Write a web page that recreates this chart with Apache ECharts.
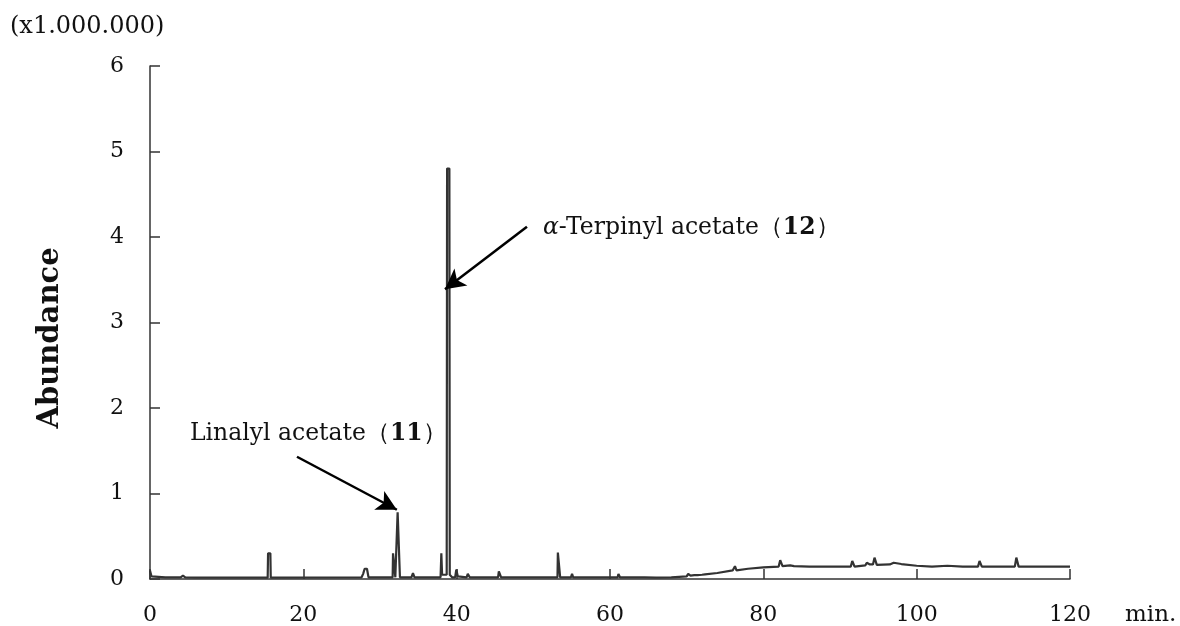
<!DOCTYPE html>
<html>
<head>
<meta charset="utf-8">
<script src="https://cdn.jsdelivr.net/npm/echarts@6/dist/echarts.min.js"></script>
<style>
html,body{margin:0;padding:0;background:#fff;}
#chart{width:1180px;height:626px;}
</style>
</head>
<body>
<div id="chart"></div>
<script>
// Retention time (min) and abundance (x1,000,000)
var times = [
  0, 0.2, 2, 4.0, 4.3, 4.6, 6,
  15.35, 15.4, 15.7, 15.75,
  27.6, 27.8, 28.0, 28.3, 28.5,
  31.65, 31.7, 31.95, 32.0, 32.25, 32.3, 32.55, 32.6,
  34.1, 34.3, 34.5, 36.8, 36.95, 37.1,
  37.9, 38.0, 38.1, 38.7, 38.75, 39.05, 39.1, 39.4,
  39.8, 39.95, 40.15, 41.3, 41.45, 41.7, 43.8, 43.95, 44.1,
  45.4, 45.5, 45.7, 45.8, 53.15, 53.2, 53.45, 53.5,
  54.9, 55.05, 55.2, 58.6, 58.7, 58.8, 61.0, 61.1, 61.3,
  62.1, 62.2, 62.3, 62.9, 63.0, 63.1, 63.7, 63.8, 63.9, 64.5, 64.6, 64.7,
  66, 68, 70, 70.2, 70.5, 71, 71.2, 71.4, 72, 72.2, 72.4, 74,
  76, 76.3, 76.5, 78, 80, 82, 82.2, 82.5, 83.5, 83.7, 84, 86, 90,
  91.4, 91.6, 91.9, 93.3, 93.5, 93.9, 94.3, 94.5, 94.8, 96.5, 97, 98,
  100, 102, 104, 106, 108, 108.2, 108.5, 112.8, 113, 113.3, 120
];
var abundance = [
  0.10, 0.03, 0.02, 0.02, 0.04, 0.02, 0.015,
  0.015, 0.30, 0.30, 0.015,
  0.02, 0.06, 0.12, 0.12, 0.02,
  0.02, 0.30, 0.30, 0.02, 0.02, 0.78, 0.78, 0.02,
  0.02, 0.07, 0.02, 0.02, 0.04, 0.02,
  0.02, 0.30, 0.05, 0.05, 4.80, 4.80, 0.05, 0.02,
  0.02, 0.11, 0.03, 0.02, 0.06, 0.02, 0.02, 0.04, 0.02,
  0.02, 0.09, 0.09, 0.02, 0.02, 0.31, 0.31, 0.02,
  0.02, 0.06, 0.02, 0.02, 0.035, 0.02, 0.02, 0.06, 0.02,
  0.02, 0.035, 0.02, 0.02, 0.035, 0.02, 0.02, 0.035, 0.02, 0.02, 0.035, 0.02,
  0.015, 0.02, 0.03, 0.06, 0.04, 0.045, 0.06, 0.045, 0.05, 0.07, 0.055, 0.07,
  0.10, 0.15, 0.10, 0.12, 0.135, 0.145, 0.22, 0.15, 0.16, 0.18, 0.15, 0.145, 0.145,
  0.145, 0.21, 0.145, 0.16, 0.19, 0.17, 0.17, 0.25, 0.165, 0.17, 0.19, 0.175,
  0.155, 0.145, 0.155, 0.145, 0.145, 0.21, 0.145, 0.145, 0.25, 0.145, 0.145
];
var xTicks = [0, 20, 40, 60, 80, 100, 120];
var yTicks = [0, 1, 2, 3, 4, 5, 6];
var linalylArrow = [[19.17, 1.43], [32.2, 0.81]];
var terpinylArrow = [[49.17, 4.12], [38.48, 3.39]];

var points = times.map(function (t, i) { return [t, abundance[i]]; });
var FONT = 'DejaVu Serif';
var chart = echarts.init(document.getElementById('chart'), null, {renderer: 'canvas'});
chart.setOption({
  animation: false,
  backgroundColor: '#fff',
  grid: {left: 150, right: 110, top: 66, bottom: 47},
  xAxis: {
    type: 'value', min: xTicks[0], max: xTicks[xTicks.length - 1], interval: 20,
    axisLine: {lineStyle: {color: '#333', width: 1.5}},
    axisTick: {inside: true, length: 10, lineStyle: {color: '#333', width: 1.5}},
    axisLabel: {margin: 25, fontFamily: FONT, fontSize: 22, color: '#111'},
    splitLine: {show: false}
  },
  yAxis: {
    type: 'value', min: yTicks[0], max: yTicks[yTicks.length - 1], interval: 1,
    axisLine: {show: true, lineStyle: {color: '#333', width: 1.5}},
    axisTick: {show: true, inside: true, length: 10, lineStyle: {color: '#333', width: 1.5}},
    axisLabel: {margin: 26, fontFamily: FONT, fontSize: 22, color: '#111'},
    splitLine: {show: false}
  },
  series: [{
    type: 'line',
    data: points,
    showSymbol: false,
    symbol: 'none',
    lineStyle: {color: '#333', width: 2.2},
    markLine: {
      silent: true,
      symbol: ['none', 'arrow'],
      symbolSize: [16, 20],
      label: {show: false},
      lineStyle: {color: '#000', width: 2.5, type: 'solid'},
      data: [
        [{coord: linalylArrow[0]}, {coord: linalylArrow[1]}],
        [{coord: terpinylArrow[0]}, {coord: terpinylArrow[1]}]
      ]
    }
  }],
  graphic: [
    {type: 'text', x: 10, y: 27, style: {text: '(x1.000.000)', font: '24px "DejaVu Serif"', fill: '#111', textVerticalAlign: 'middle'}},
    {type: 'text', x: 50, y: 338, rotation: Math.PI / 2,
      style: {text: 'Abundance', font: 'bold 29px "DejaVu Serif"', fill: '#111', textAlign: 'center', textVerticalAlign: 'middle'}},
    {type: 'text', x: 1125, y: 615, style: {text: 'min.', font: '23px "DejaVu Serif"', fill: '#111', textVerticalAlign: 'middle'}},
    {type: 'text', x: 190, y: 434, style: {
      rich: {
        n: {fontFamily: FONT, fontSize: 23.5, fill: '#111'},
        b: {fontFamily: FONT, fontSize: 23.5, fontWeight: 'bold', fill: '#111'}
      },
      text: '{n|Linalyl acetate（}{b|11}{n|）}', textVerticalAlign: 'middle'}},
    {type: 'text', x: 543, y: 228, style: {
      rich: {
        i: {fontFamily: FONT, fontSize: 23.5, fontStyle: 'italic', fill: '#111'},
        n: {fontFamily: FONT, fontSize: 23.5, fill: '#111'},
        b: {fontFamily: FONT, fontSize: 23.5, fontWeight: 'bold', fill: '#111'}
      },
      text: '{i|α}{n|-Terpinyl acetate（}{b|12}{n|）}', textVerticalAlign: 'middle'}}
  ]
});
</script>
</body>
</html>
